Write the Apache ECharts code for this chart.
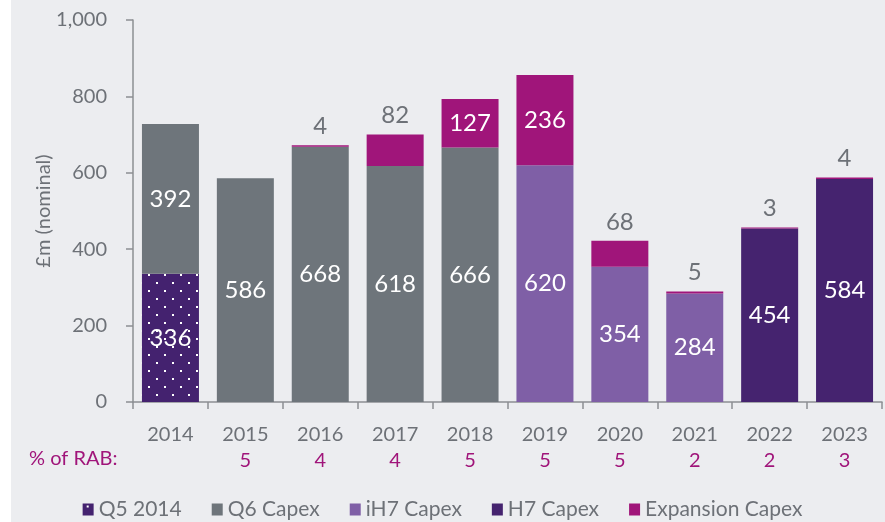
<!DOCTYPE html>
<html>
<head>
<meta charset="utf-8">
<script src="https://cdn.jsdelivr.net/npm/echarts@6/dist/echarts.min.js"></script>
<style>
  html, body { margin: 0; padding: 0; background: #ECEDF0; }
  #chart { width: 885px; height: 522px; }
</style>
</head>
<body>
<div id="chart"></div>
<script>
var years = ['2014', '2015', '2016', '2017', '2018', '2019', '2020', '2021', '2022', '2023'];
var rabPct = ['', '5', '4', '4', '5', '5', '5', '2', '2', '3'];
var q5 = [336, null, null, null, null, null, null, null, null, null];
var q6 = [392, 586, 668, 618, 666, null, null, null, null, null];
var ih7 = [null, null, null, null, null, 620, 354, 284, null, null];
var h7 = [null, null, null, null, null, null, null, null, 454, 584];
var expansion = [null, null, 4, 82, 127, 236, 68, 5, 3, 4];
var yTicks = [0, 200, 400, 600, 800, 1000];

var font = 'Lato, "Open Sans", sans-serif';
var textGray = '#6D7177';

// dotted fill for Q5 2014
var dots = document.createElement('canvas');
dots.width = 16;
dots.height = 16;
var ctx = dots.getContext('2d');
ctx.fillStyle = '#44226F';
ctx.fillRect(0, 0, 16, 16);
ctx.fillStyle = '#ffffff';
ctx.fillRect(4, 2, 2, 2);
ctx.fillRect(12, 10, 2, 2);

var insideLabel = {
    show: true,
    position: 'inside',
    color: '#ffffff',
    fontSize: 24,
    fontFamily: font
};

function expansionData() {
    return expansion.map(function(v) {
        if (v == null) return null;
        if (v > 100) return { value: v };
        return {
            value: v,
            label: { position: 'top', color: textGray, distance: 7 }
        };
    });
}

function bar(name, values, color) {
    return {
        name: name,
        type: 'bar',
        stack: 'total',
        barWidth: 57,
        data: values,
        itemStyle: { color: color },
        label: insideLabel
    };
}

var chart = echarts.init(document.getElementById('chart'));
chart.setOption({
    animation: false,
    backgroundColor: '#ECEDF0',
    textStyle: { fontFamily: font },
    graphic: [
        { type: 'rect', left: 0, top: 0, shape: { width: 11, height: 522 }, style: { fill: '#ffffff' } },
        { type: 'text', left: 29, top: 449, style: { text: '% of RAB:', fill: '#A0157A', font: '20px ' + font } }
    ],
    grid: { left: 133, right: 3, top: 20, bottom: 120 },
    legend: {
        left: 'center',
        top: 494,
        itemWidth: 11,
        itemHeight: 12,
        itemGap: 30,
        icon: 'rect',
        textStyle: { color: textGray, fontSize: 21, fontFamily: font },
        data: ['Q5 2014', 'Q6 Capex', 'iH7 Capex', 'H7 Capex', 'Expansion Capex']
    },
    xAxis: [{
        type: 'category',
        data: years,
        axisLine: { lineStyle: { color: '#8C8F93', width: 1.5 } },
        axisTick: { show: true, length: 7, lineStyle: { color: '#8C8F93', width: 1.5 } },
        axisLabel: { color: textGray, fontSize: 20, margin: 23, fontFamily: font }
    }, {
        type: 'category',
        data: rabPct,
        position: 'bottom',
        offset: 25,
        axisLine: { show: false },
        axisTick: { show: false },
        axisLabel: { color: '#A0157A', fontSize: 20, margin: 24, fontFamily: font }
    }],
    yAxis: {
        type: 'value',
        min: yTicks[0],
        max: yTicks[yTicks.length - 1],
        interval: 200,
        name: '£m (nominal)',
        nameLocation: 'middle',
        nameMoveOverlap: false,
        nameGap: 79,
        nameTextStyle: { color: textGray, fontSize: 20, fontFamily: font },
        axisLine: { show: true, lineStyle: { color: '#8C8F93', width: 1.5 } },
        axisTick: { show: true, length: 7, lineStyle: { color: '#8C8F93', width: 1.5 } },
        splitLine: { show: false },
        axisLabel: {
            color: textGray,
            fontSize: 20,
            margin: 26,
            fontFamily: font,
            formatter: function(v) { return v.toLocaleString('en-GB'); }
        }
    },
    series: [
        bar('Q5 2014', q5, { image: dots, repeat: 'repeat' }),
        bar('Q6 Capex', q6, '#6E757B'),
        bar('iH7 Capex', ih7, '#7F5FA6'),
        bar('H7 Capex', h7, '#45236F'),
        bar('Expansion Capex', expansionData(), '#A0157A')
    ]
});
</script>
</body>
</html>
